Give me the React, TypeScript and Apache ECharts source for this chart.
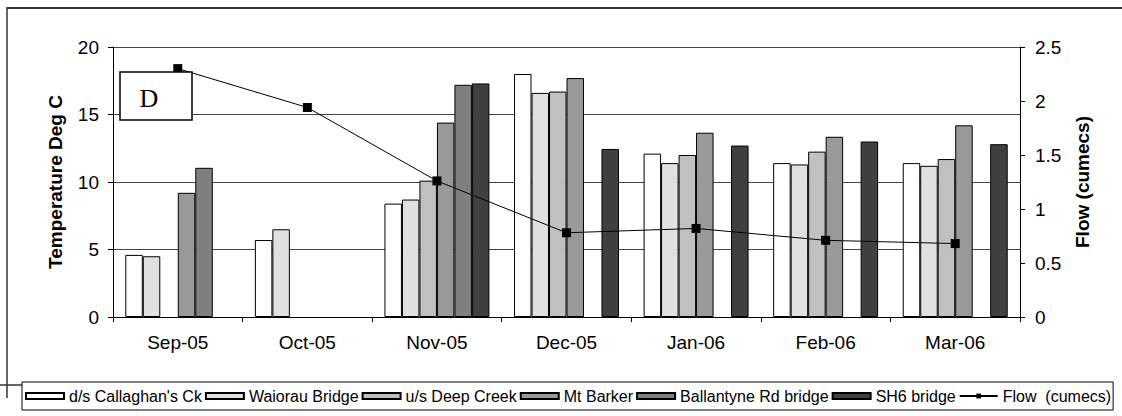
import React, { useEffect, useRef } from "react";
import * as echarts from "echarts";

const categories = ["Sep-05", "Oct-05", "Nov-05", "Dec-05", "Jan-06", "Feb-06", "Mar-06"];
const dsCallaghans = [4.6, 5.7, 8.4, 18.0, 12.1, 11.4, 11.4];
const waiorauBridge = [4.5, 6.5, 8.7, 16.6, 11.4, 11.3, 11.2];
const usDeepCreek = [null, null, 10.1, 16.7, 12.0, 12.25, 11.7];
const mtBarker = [9.2, null, 14.4, 17.7, 13.65, 13.35, 14.2];
const ballantyne = [11.05, null, 17.2, null, null, null, null];
const sh6Bridge = [null, null, 17.3, 12.45, 12.7, 13.0, 12.8];
const flow = [2.3, 1.94, 1.26, 0.78, 0.82, 0.71, 0.68];

const FONT = "'Liberation Sans', Arial, sans-serif";

export default function App() {
  const ref = useRef<HTMLDivElement>(null);
  useEffect(() => {
    if (!ref.current) return;
    const chart = echarts.init(ref.current, null, { renderer: "svg" });
    const bar = (name: string, data: (number | null)[], color: string) => ({
      name,
      type: "bar",
      data,
      barGap: "0%",
      barCategoryGap: "19%",
      itemStyle: { color, borderColor: "#000", borderWidth: 1 },
      yAxisIndex: 0,
    });
    chart.setOption({
      animation: false,
      backgroundColor: "#fff",
      textStyle: { fontFamily: FONT, color: "#000" },
      grid: { left: 113, right: 102, top: 47, bottom: 99 },
      legend: {
        left: 22,
        top: 382,
        padding: [6, 2, 6, 3],
        borderColor: "#000",
        borderWidth: 1,
        itemGap: 3,
        itemWidth: 38,
        itemHeight: 6,
        textStyle: { fontSize: 16, fontFamily: FONT, color: "#000" },
        data: [
          { name: "d/s Callaghan's Ck", icon: "rect" },
          { name: "Waiorau Bridge", icon: "rect" },
          { name: "u/s Deep Creek", icon: "rect" },
          { name: "Mt Barker", icon: "rect" },
          { name: "Ballantyne Rd bridge", icon: "rect" },
          { name: "SH6 bridge", icon: "rect" },
          { name: "Flow  (cumecs)" },
        ],
      },
      xAxis: {
        type: "category",
        data: categories,
        axisLine: { lineStyle: { color: "#000", width: 1 } },
        axisTick: { show: true, length: 5, lineStyle: { color: "#000" } },
        axisLabel: { fontSize: 19, color: "#000", fontFamily: FONT, margin: 16 },
      },
      yAxis: [
        {
          type: "value",
          min: 0,
          max: 20,
          interval: 5,
          name: "Temperature Deg C",
          nameLocation: "middle",
          nameRotate: 90,
          nameGap: 48,
          nameTextStyle: { fontSize: 19, fontWeight: "bold", color: "#000", fontFamily: FONT },
          axisLine: { show: true, lineStyle: { color: "#000" } },
          axisTick: { show: true, length: 5, lineStyle: { color: "#000" } },
          axisLabel: { fontSize: 19, color: "#000", fontFamily: FONT, margin: 14 },
          splitLine: { show: true, lineStyle: { color: "#444", width: 1 } },
        },
        {
          type: "value",
          min: 0,
          max: 2.5,
          interval: 0.5,
          position: "right",
          name: "Flow (cumecs)",
          nameLocation: "middle",
          nameRotate: 90,
          nameGap: 53,
          nameTextStyle: { fontSize: 19, fontWeight: "bold", color: "#000", fontFamily: FONT },
          axisLine: { show: true, lineStyle: { color: "#000" } },
          axisTick: { show: true, length: 5, lineStyle: { color: "#000" } },
          axisLabel: { fontSize: 19, color: "#000", fontFamily: FONT, margin: 15 },
          splitLine: { show: false },
        },
      ],
      series: [
        bar("d/s Callaghan's Ck", dsCallaghans, "#ffffff"),
        bar("Waiorau Bridge", waiorauBridge, "#e0e0e0"),
        bar("u/s Deep Creek", usDeepCreek, "#c0c0c0"),
        bar("Mt Barker", mtBarker, "#999999"),
        bar("Ballantyne Rd bridge", ballantyne, "#7f7f7f"),
        bar("SH6 bridge", sh6Bridge, "#404040"),
        {
          name: "Flow  (cumecs)",
          type: "line",
          yAxisIndex: 1,
          data: flow,
          symbol: "rect",
          symbolSize: 9,
          itemStyle: { color: "#000" },
          lineStyle: { color: "#000", width: 1 },
          z: 5,
        },
      ],
      graphic: [
        { type: "line", shape: { x1: 7, y1: 8, x2: 1122, y2: 8 }, style: { stroke: "#333", lineWidth: 2 } },
        { type: "line", shape: { x1: 7, y1: 7, x2: 7, y2: 398 }, style: { stroke: "#333", lineWidth: 1.5 } },
        { type: "line", shape: { x1: 0, y1: 385, x2: 22, y2: 385 }, style: { stroke: "#333", lineWidth: 1.5 } },
        {
          type: "rect",
          shape: { x: 120, y: 72, width: 72, height: 48 },
          style: { fill: "#fff", stroke: "#000", lineWidth: 1.5 },
          z: 10,
        },
        {
          type: "text",
          x: 149,
          y: 98,
          style: {
            text: "D",
            font: "26px 'Liberation Serif', 'Times New Roman', serif",
            fill: "#000",
            textAlign: "center",
            textVerticalAlign: "middle",
          },
          z: 11,
        },
      ],
    });
    return () => chart.dispose();
  }, []);
  return (
    <div
      ref={ref}
      style={{ position: "absolute", left: 0, top: 0, width: 1122, height: 416 }}
    />
  );
}
